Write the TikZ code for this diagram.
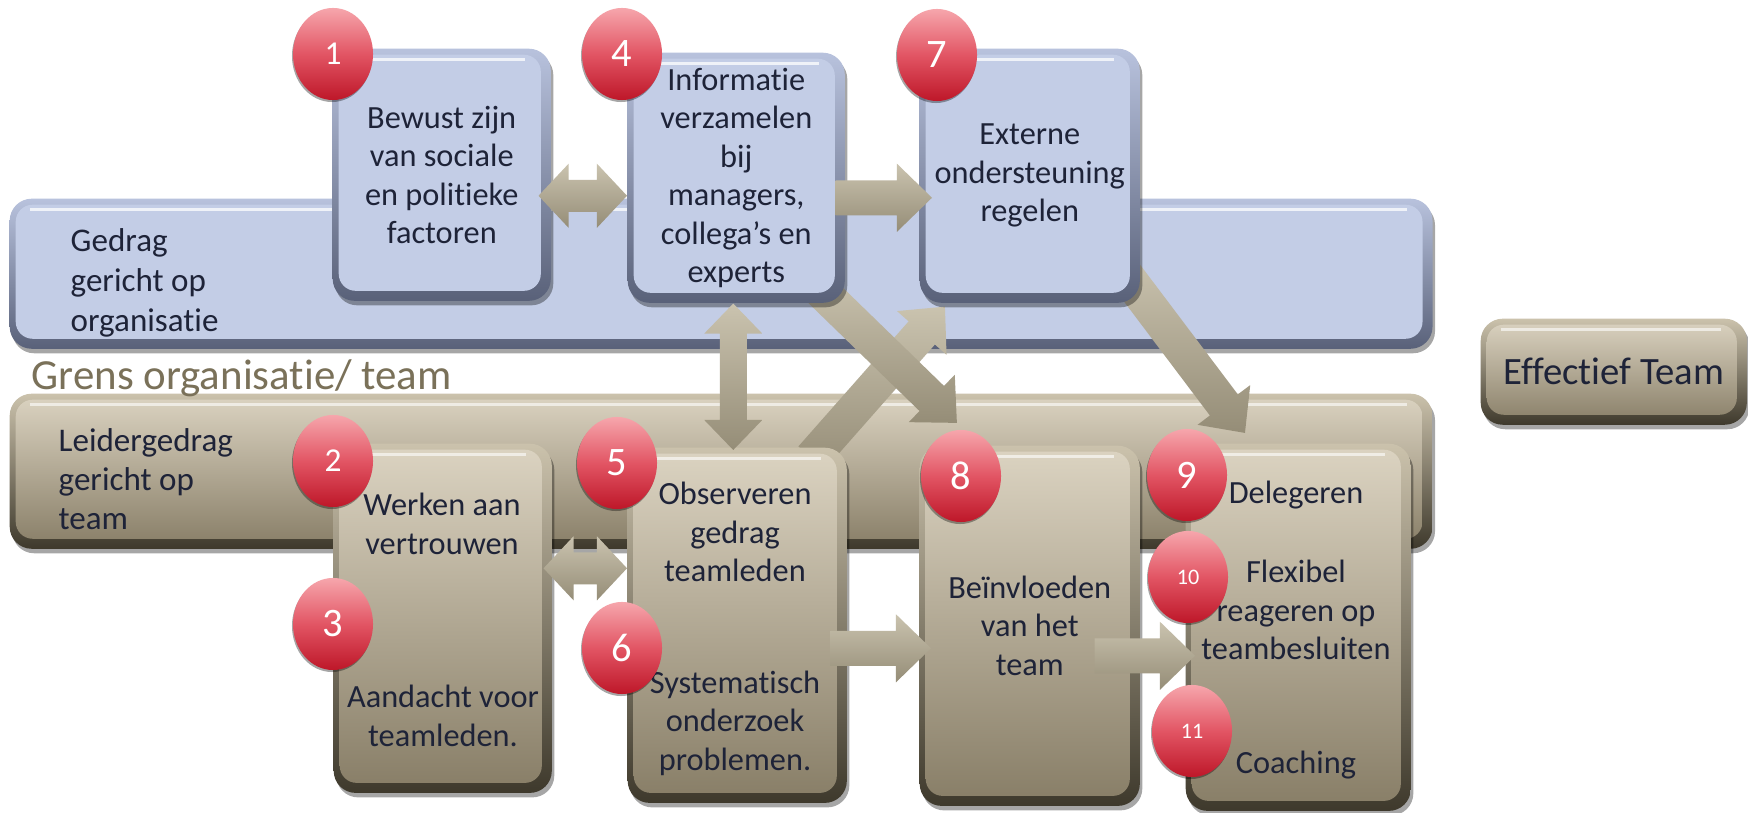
\documentclass[tikz,border=0pt]{standalone}
\usepackage{fontspec}
\setmainfont{Carlito}[Ligatures={NoCommon,NoContextual}]
\usetikzlibrary{shapes.geometric, shadows, arrows.meta, calc}

\definecolor{blueface}{HTML}{C3CDE6}
\definecolor{bluetop}{HTML}{B8C2DD}
\definecolor{bluebot}{HTML}{596179}
\definecolor{tanfacetop}{HTML}{DCD4C2}
\definecolor{tanfacebot}{HTML}{877D66}
\definecolor{tanedgetop}{HTML}{CBC2AC}
\definecolor{tanedgebot}{HTML}{3E392C}
\definecolor{txt}{HTML}{1E2338}
\definecolor{grens}{HTML}{7A7159}
\definecolor{arrowlight}{HTML}{CAC3AF}
\definecolor{arrowdark}{HTML}{958D77}
\definecolor{redtop}{HTML}{F6A6AC}
\definecolor{redmid}{HTML}{E25564}
\definecolor{redbot}{HTML}{BE1729}

\newcommand\boxfont{\fontsize{9.2pt}{10.95pt}\selectfont}
\newcommand\bigfont{\fontsize{11pt}{13pt}\selectfont}

\pgfdeclarelayer{bandlayer}
\pgfdeclarelayer{backarrows}
\pgfsetlayers{bandlayer,backarrows,main}

\tikzset{
  boxbase/.style={rectangle, rounded corners=0.22cm, anchor=north west, inner sep=0pt, draw=none,
    text=txt, align=center, font=\boxfont,
    drop shadow={shadow xshift=0.025cm, shadow yshift=-0.045cm, opacity=0.35, fill=black}},
  bluebox/.style={boxbase, top color=bluetop, bottom color=bluebot,
    path picture={
      \fill[blueface, rounded corners=0.17cm]
        ([xshift=0.06cm,yshift=-0.06cm]path picture bounding box.north west) rectangle
        ([xshift=-0.1cm,yshift=0.1cm]path picture bounding box.south east);
      \draw[white, opacity=0.75, line width=0.035cm]
        ([xshift=0.2cm,yshift=-0.11cm]path picture bounding box.north west) --
        ([xshift=-0.26cm,yshift=-0.11cm]path picture bounding box.north east);
    }},
  tanbox/.style={boxbase, top color=tanedgetop, bottom color=tanedgebot,
    path picture={
      \shade[top color=tanfacetop, bottom color=tanfacebot, rounded corners=0.17cm]
        ([xshift=0.06cm,yshift=-0.06cm]path picture bounding box.north west) rectangle
        ([xshift=-0.1cm,yshift=0.1cm]path picture bounding box.south east);
      \draw[white, opacity=0.6, line width=0.035cm]
        ([xshift=0.2cm,yshift=-0.11cm]path picture bounding box.north west) --
        ([xshift=-0.26cm,yshift=-0.11cm]path picture bounding box.north east);
    }},
  circ/.style={ellipse, minimum width=0.8cm, minimum height=0.92cm, inner sep=0pt,
    top color=redtop, bottom color=redbot, middle color=redmid, text=white,
    drop shadow={shadow xshift=-0.01cm, shadow yshift=-0.02cm, opacity=0.35, fill=black}},
  lbl/.style={inner sep=0pt, text=txt, font=\boxfont, align=center},
  arrowshade/.style={top color=arrowlight, bottom color=arrowdark, draw=none},
}

% measure the connector from #1 to #2 (angle and length in pt)
\newcommand\measurearrow[2]{%
  \path let \p1=(#1), \p2=(#2), \n1={atan2(\y2-\y1,\x2-\x1)}, \n2={veclen(\x2-\x1,\y2-\y1)} in
    \pgfextra{\pgfmathparse{\n1}\xdef\arrang{\pgfmathresult}%
              \pgfmathparse{\n2}\xdef\arrlen{\pgfmathresult}};}
% block arrow from #1 to #2: shaft half width #3, head half width #4, head length #5
\newcommand\blockarrow[5]{%
  \measurearrow{#1}{#2}%
  \begin{scope}[shift={(#1)}, rotate=\arrang]
    \shade[arrowshade] (0pt,-#3) -- (\arrlen pt-#5,-#3) -- (\arrlen pt-#5,-#4) -- (\arrlen pt,0pt)
      -- (\arrlen pt-#5,#4) -- (\arrlen pt-#5,#3) -- (0pt,#3) -- cycle;
  \end{scope}}
% double block arrow
\newcommand\dblockarrow[5]{%
  \measurearrow{#1}{#2}%
  \begin{scope}[shift={(#1)}, rotate=\arrang]
    \shade[arrowshade] (0pt,0pt) -- (#5,#4) -- (#5,#3) -- (\arrlen pt-#5,#3) -- (\arrlen pt-#5,#4)
      -- (\arrlen pt,0pt) -- (\arrlen pt-#5,-#4) -- (\arrlen pt-#5,-#3) -- (#5,-#3) -- (#5,-#4) -- cycle;
  \end{scope}}

\begin{document}
\begin{tikzpicture}[x=0.01cm, y=-0.01cm]
\useasboundingbox (0,0) rectangle (1748,813);

% background and bands
\begin{pgfonlayer}{bandlayer}
\fill[white] (0,0) rectangle (1748,813);
\node[bluebox, minimum width=14.22cm, minimum height=1.5cm] (bandorg) at (9,198) {};
\node[tanbox, minimum width=14.22cm, minimum height=1.55cm] (bandteam) at (9,393) {};
\end{pgfonlayer}

% boxes
\node[bluebox, minimum width=2.18cm, minimum height=2.52cm] (b1) at (332,48)
  {Bewust zijn\\van sociale\\en politieke\\factoren};
\node[bluebox, minimum width=2.17cm, minimum height=2.5cm] (b4) at (627,52)
  {Informatie\\verzamelen\\bij\\managers,\\collega’s en\\experts};
\node[bluebox, minimum width=2.2cm, minimum height=2.54cm] (b7) at (919,48)
  {Externe\\ondersteuning\\regelen};

\node[tanbox, minimum width=2.18cm, minimum height=3.49cm] (b23) at (333,443) {};
\node[tanbox, minimum width=2.19cm, minimum height=3.55cm] (b56) at (627,447) {};
\node[tanbox, minimum width=2.2cm, minimum height=3.6cm] (b8) at (919,445)
  {Beïnvloeden\\van het\\team};
\node[tanbox, minimum width=2.25cm, minimum height=3.67cm] (b911) at (1185,443) {};

\node[tanbox, minimum width=2.66cm, minimum height=1.06cm, font=\bigfont] (eff) at (1480,318)
  {Effectief Team};

% band labels
\node[lbl, anchor=west, align=left, font=\fontsize{9.4pt}{11.3pt}\selectfont] (tgedrag) at (70,283)
  {Gedrag\\gericht op\\organisatie};
\node[lbl, anchor=west, align=left, font=\fontsize{9.4pt}{11pt}\selectfont] (tleider) at (58,479)
  {Leidergedrag\\gericht op\\team};
\node[inner sep=0pt, anchor=base west, text=grens, font=\fontsize{12.2pt}{14pt}\selectfont] (tgrens) at (31,390)
  {Grens organisatie/ team};

% texts in lower boxes
\node[lbl] (t2) at (442,524) {Werken aan\\vertrouwen};
\node[lbl] (t3) at (443,716) {Aandacht voor\\teamleden.};
\node[lbl] (t5) at (735,532) {Observeren\\gedrag\\teamleden};
\node[lbl] (t6) at (735,723) {Systematisch\\onderzoek\\problemen.};
\node[lbl] (t9) at (1296,495) {Delegeren};
\node[lbl] (t10) at (1296,610) {Flexibel\\reageren op\\teambesluiten};
\node[lbl] (t11) at (1296,765) {Coaching};

% connector end points
\coordinate (d57s) at ($(b56.north east)+(-36,11)$);
\coordinate (d57e) at ($(b7.south west)+(26,3)$);
\coordinate (d48s) at ($(b4.south east)+(-29,-17)$);
\coordinate (d48e) at ($(b8.north west)+(38,-22)$);
\coordinate (d79s) at ($(b7.south east)+(-21,-37)$);
\coordinate (d79e) at ($(b911.north west)+(60,-10)$);

% diagonal arrows (behind boxes)
\begin{pgfonlayer}{backarrows}
\blockarrow{d57s}{d57e}{0.175cm}{0.33cm}{0.35cm}
\blockarrow{d48s}{d48e}{0.175cm}{0.33cm}{0.35cm}
\blockarrow{d79s}{d79e}{0.175cm}{0.33cm}{0.35cm}
\end{pgfonlayer}

% straight arrows
\coordinate (a14) at ($(b1.east)+(-13,21)$);
\coordinate (a14e) at (a14 -| b4.west);
\dblockarrow{a14}{a14e}{0.16cm}{0.32cm}{0.3cm}
\coordinate (a47) at ($(b4.east)+(-10,20)$);
\coordinate (a47e) at ($(a47 -| b7.west)+(13,0)$);
\blockarrow{a47}{a47e}{0.175cm}{0.34cm}{0.35cm}
\coordinate (a45) at ($(b4.south |- b56.north)+(-3,3)$);
\coordinate (a45e) at ($(b4.south)+(-3,0)$);
\dblockarrow{a45}{a45e}{0.135cm}{0.29cm}{0.3cm}
\coordinate (a25) at ($(b23.east)+(-9,-50)$);
\coordinate (a25e) at (a25 -| b56.west);
\dblockarrow{a25}{a25e}{0.16cm}{0.32cm}{0.3cm}
\coordinate (a68) at ($(b56.east)+(-17,23)$);
\coordinate (a68e) at ($(a68 -| b8.west)+(12,0)$);
\blockarrow{a68}{a68e}{0.175cm}{0.34cm}{0.35cm}
\coordinate (a89) at ($(b8.east)+(-46,30)$);
\coordinate (a89e) at ($(a89 -| b911.west)+(10,0)$);
\blockarrow{a89}{a89e}{0.175cm}{0.34cm}{0.35cm}

% numbered circles
\node[circ, font=\fontsize{9.5pt}{10pt}\selectfont] (n1) at (333,54) {1};
\node[circ, font=\fontsize{11.5pt}{12pt}\selectfont] (n4) at (622,54) {4};
\node[circ, font=\fontsize{11.5pt}{12pt}\selectfont] (n7) at (937,55) {7};
\node[circ, font=\fontsize{9.5pt}{10pt}\selectfont] (n2) at (333,461) {2};
\node[circ, font=\fontsize{11.5pt}{12pt}\selectfont] (n3) at (333,624) {3};
\node[circ, font=\fontsize{11.5pt}{12pt}\selectfont] (n5) at (617,463) {5};
\node[circ, font=\fontsize{11.5pt}{12pt}\selectfont] (n6) at (622,648) {6};
\node[circ, font=\fontsize{11.5pt}{12pt}\selectfont] (n8) at (961,476) {8};
\node[circ, font=\fontsize{11.5pt}{12pt}\selectfont] (n9) at (1187,475) {9};
\node[circ, font=\fontsize{6.3pt}{7pt}\selectfont] (n10) at (1188,577) {10};
\node[circ, font=\fontsize{6.3pt}{7pt}\selectfont] (n11) at (1192,731) {11};
\end{tikzpicture}
\end{document}
